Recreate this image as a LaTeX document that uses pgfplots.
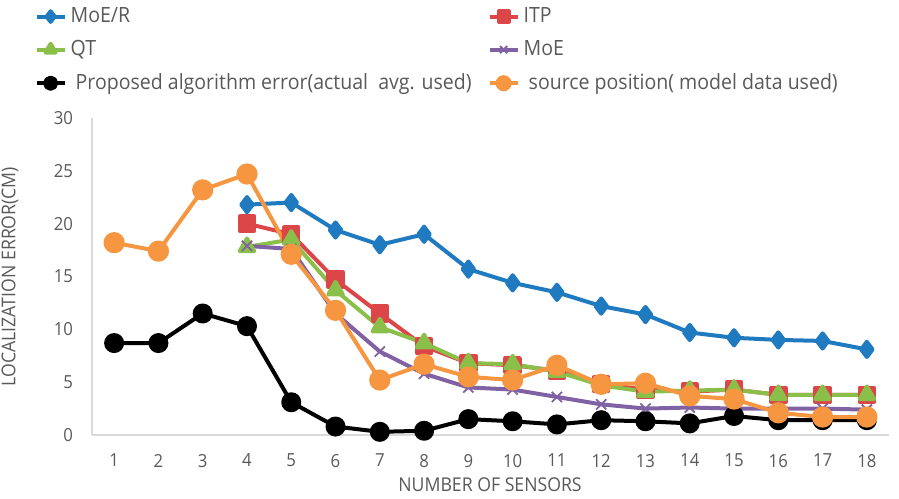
\documentclass[border=0pt]{standalone}
\usepackage{fontspec}
\setmainfont{Open Sans}[FakeStretch=0.93]
\usepackage{pgfplots}
\pgfplotsset{compat=1.18}
\definecolor{cblue}{RGB}{31,122,192}
\definecolor{cred}{RGB}{220,70,72}
\definecolor{cgreen}{RGB}{138,192,74}
\definecolor{cpurple}{RGB}{128,98,164}
\definecolor{corange}{RGB}{247,150,64}
\definecolor{ctext}{RGB}{89,89,89}
\definecolor{caxis}{RGB}{217,217,217}
\begin{document}
\begin{tikzpicture}
\path[use as bounding box] (0pt,0pt) rectangle (449.5pt,249pt);
\begin{axis}[
  at={(46pt,31.5pt)}, anchor=south west,
  scale only axis, width=398.5pt, height=158.5pt,
  xmin=0.5, xmax=18.5, ymin=0, ymax=30,
  axis lines=left,
  axis line style={-, draw=caxis, line width=0.8pt},
  major tick length=0pt,
  xtick={1,...,18}, ytick={0,5,...,30},
  /pgf/number format/assume math mode=true,
  tick label style={font=\fontsize{9}{10}\selectfont, text=ctext},
  yticklabel style={xshift=-6pt},
  xticklabel style={yshift=-6pt},
  xlabel={NUMBER OF SENSORS},
  ylabel={LOCALIZATION ERROR(CM)},
  label style={font=\fontsize{9.5}{11}\selectfont, text=ctext},
  xlabel style={at={(axis description cs:0.4994,-0.158)}, anchor=center},
  ylabel style={at={(axis description cs:-0.1029,0.5)}, anchor=center},
  clip=false,
  legend columns=2,
  legend cell align=left,
  legend style={at={(axis description cs:-0.080,1.375)}, anchor=north west,
    draw=none, fill=none, font=\fontsize{10.5}{12}\selectfont, text=ctext,
    /tikz/every even column/.append style={column sep=6pt},
    row sep=3.5pt},
  legend image code/.code={\draw[mark repeat=2,mark phase=2,#1,every mark/.append style={scale=0.7}] plot coordinates {(0pt,0pt)(7pt,0pt)(14pt,0pt)};},
  every axis plot/.append style={line width=2pt, line join=round},
]
\addplot[cblue, mark=diamond*, mark size=3.8pt] coordinates {
(4,21.8)(5,22.0)(6,19.4)(7,18.0)(8,19.0)(9,15.7)(10,14.4)(11,13.5)(12,12.2)(13,11.4)(14,9.7)(15,9.2)(16,9.0)(17,8.9)(18,8.1)};
\addlegendentry{MoE/R}
\addplot[cred, mark=square*, mark size=3.6pt] coordinates {
(4,20.0)(5,19.0)(6,14.7)(7,11.5)(8,8.4)(9,6.8)(10,6.6)(11,6.1)(12,4.8)(13,4.3)(14,4.1)(15,4.3)(16,3.8)(17,3.8)(18,3.8)};
\addlegendentry{ITP}
\addplot[cgreen, mark=triangle*, mark size=4.2pt] coordinates {
(4,17.8)(5,18.5)(6,13.7)(7,10.2)(8,8.7)(9,6.8)(10,6.7)(11,6.0)(12,4.7)(13,4.1)(14,4.2)(15,4.3)(16,3.8)(17,3.8)(18,3.8)};
\addlegendentry{QT}
\addplot[cpurple, mark=x, mark size=3.6pt, mark options={line width=0.9pt}] coordinates {
(4,17.9)(5,17.6)(6,11.5)(7,7.9)(8,5.8)(9,4.5)(10,4.3)(11,3.6)(12,2.9)(13,2.5)(14,2.6)(15,2.5)(16,2.5)(17,2.5)(18,2.4)};
\addlegendentry{MoE}
\addplot[black, mark=*, mark size=4pt] coordinates {
(1,8.7)(2,8.7)(3,11.5)(4,10.3)(5,3.1)(6,0.8)(7,0.3)(8,0.4)(9,1.5)(10,1.3)(11,1.0)(12,1.4)(13,1.3)(14,1.1)(15,1.8)(16,1.4)(17,1.4)(18,1.4)};
\addlegendentry{\ Proposed algorithm error(actual~~avg. used)}
\addplot[corange, mark=*, mark size=4.3pt] coordinates {
(1,18.2)(2,17.4)(3,23.2)(4,24.7)(5,17.1)(6,11.8)(7,5.2)(8,6.7)(9,5.5)(10,5.2)(11,6.6)(12,4.8)(13,4.9)(14,3.7)(15,3.4)(16,2.1)(17,1.7)(18,1.7)};
\addlegendentry{\ source position( model data used)}
\end{axis}
\end{tikzpicture}
\end{document}
